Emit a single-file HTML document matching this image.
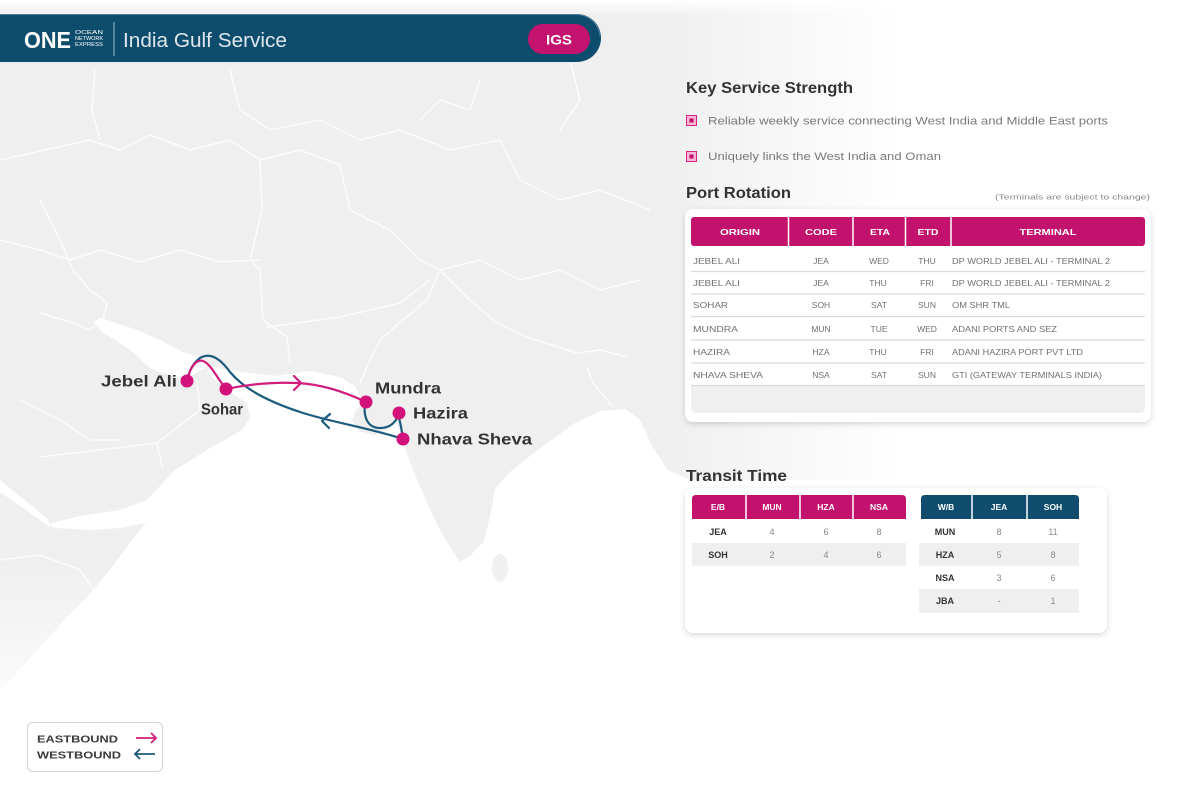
<!DOCTYPE html>
<html><head><meta charset="utf-8"><style>
html,body{margin:0;padding:0;background:#fff;}
svg{display:block;}
text{font-family:"Liberation Sans",sans-serif;}
</style></head><body>
<svg width="1200" height="788" viewBox="0 0 1200 788" xmlns="http://www.w3.org/2000/svg">
<defs>
<linearGradient id="fr" x1="0" x2="1" y1="0" y2="0">
 <stop offset="0" stop-color="#fff" stop-opacity="0"/>
 <stop offset="1" stop-color="#fff" stop-opacity="1"/>
</linearGradient>
<linearGradient id="fb" x1="0" x2="0" y1="0" y2="1">
 <stop offset="0" stop-color="#fff" stop-opacity="0"/>
 <stop offset="1" stop-color="#fff" stop-opacity="1"/>
</linearGradient>
<linearGradient id="ft" x1="0" x2="0" y1="0" y2="1">
 <stop offset="0" stop-color="#fff" stop-opacity="1"/>
 <stop offset="1" stop-color="#fff" stop-opacity="0"/>
</linearGradient>
<filter id="sh" x="-5%" y="-8%" width="110%" height="120%"><feDropShadow dx="0" dy="2" stdDeviation="3" flood-color="#000" flood-opacity="0.16"/></filter>
</defs>
<rect width="1200" height="788" fill="#fff"/>

<!-- MAP -->
<rect x="0" y="0" width="900" height="788" fill="#efefef"/>
<g fill="none" stroke="#fbfbfb" stroke-width="1.5" stroke-linejoin="round">
 <polyline points="40,313 73,323 90,330 103,320 107,303 90,290 73,270 60,240 40,200"/>
 <polyline points="260,270 263,320 287,337 290,363"/>
 <polyline points="267,327 340,317 400,303 430,280"/>
 <polyline points="40,457 157,443 200,410 197,380"/>
 <polyline points="157,443 163,470"/>
 <polyline points="360,383 370,360 380,340 403,320 427,300 440,270"/>
 <polyline points="497,323 527,337 577,353 600,350 627,357"/>
 <polyline points="587,367 593,383 613,407"/>
 <polyline points="0,160 45,150 90,140 120,150 150,135 190,150 230,140 260,160 300,150 340,165"/>
 <polyline points="95,70 92,110 100,140"/>
 <polyline points="230,70 240,110 270,130 320,120 360,140 400,130 450,150 500,140"/>
 <polyline points="260,160 262,210 250,260 260,270"/>
 <polyline points="340,165 350,210 390,230 420,260 440,270 480,260 520,280 560,270 600,290 640,280"/>
 <polyline points="0,240 40,250 70,260 100,250 140,262 180,250 220,262 260,260"/>
 <polyline points="500,140 520,180 560,200 600,190 650,210"/>
 <polyline points="440,270 470,300 497,323"/>
 <polyline points="0,560 40,555 80,570 100,600"/>
 <polyline points="20,400 60,420 90,440 120,440"/>
 <polyline points="420,120 440,100 470,110 480,80"/>
 <polyline points="570,60 580,100 560,130"/>
</g>
<!-- water -->
<path fill="#fff" d="M212,367 L240,372 L275,376 L310,371 L340,377 L355,386 L360,396 L362,404 L356,410 L352,420 L358,431 L374,435 L388,430 L396,421 L400,432 L404,446 L410,462 L418,482 L428,505 L440,530 L452,550 L460,562 L470,556 L484,541 L491,512 L495,488 L510,472 L530,456 L550,441 L575,423 L600,411 L625,409 L640,420 L652,446 L668,470 L690,480 L900,480 L900,788 L0,788 L0,690 L22,667 L45,642 L67,617 L90,594 L112,567 L126,548 L140,530 L146,523 L120,528 L90,530 L55,528 L48,524 L80,516 L120,510 L147,500 L175,470 L210,448 L242,430 L250,418 L247,403 L235,395 L225,388 L215,380 L207,372 Z"/>
<path fill="#fff" d="M207,364 L198,357 L183,352 L162,341 L140,331 L116,323 L100,318 L94,322 L102,332 L120,343 L134,353 L142,361 L150,368 L162,373 L176,377 L188,378 L197,372 L204,369 Z"/>
<path fill="#fff" d="M0,480 L48,519 L50,527 L0,492 Z"/>
<ellipse cx="500" cy="568" rx="8" ry="14" fill="#efefef"/>
<!-- fades -->
<rect x="660" y="0" width="240" height="788" fill="url(#fr)"/>
<rect x="899" y="0" width="301" height="788" fill="#fff"/>
<rect x="0" y="560" width="900" height="180" fill="url(#fb)"/>
<rect x="0" y="739" width="900" height="49" fill="#fff"/>
<rect x="0" y="0" width="900" height="16" fill="url(#ft)"/>

<!-- HEADER -->
<path d="M0,14 H577 A24,24 0 0 1 577,62 H0 Z" fill="#0e4c6e"/>
<path d="M0,14.5 H577 A23.5,23.5 0 0 1 600,36" fill="none" stroke="#4f7f9c" stroke-width="1"/>
<text x="24" y="48" font-size="23" font-weight="bold" fill="#fff" textLength="47" lengthAdjust="spacingAndGlyphs">ONE</text>
<text x="75" y="34" font-size="5" fill="#fff" textLength="28" lengthAdjust="spacingAndGlyphs">OCEAN</text>
<text x="75" y="40" font-size="5" fill="#fff" textLength="28" lengthAdjust="spacingAndGlyphs">NETWORK</text>
<text x="75" y="46" font-size="5" fill="#fff" textLength="28" lengthAdjust="spacingAndGlyphs">EXPRESS</text>
<line x1="114" y1="22" x2="114" y2="56" stroke="#a7bccb" stroke-width="1"/>
<text x="123" y="47" font-size="20" fill="#dfe7ed" textLength="164" lengthAdjust="spacingAndGlyphs">India Gulf Service</text>
<rect x="528" y="24" width="62" height="30" rx="15" fill="#c4126f"/>
<text x="559" y="44.5" font-size="14" font-weight="bold" fill="#fff" text-anchor="middle" textLength="26" lengthAdjust="spacingAndGlyphs">IGS</text>

<!-- ROUTES -->
<g fill="none" stroke-width="2.2" stroke-linecap="round" stroke-linejoin="round">
 <path stroke="#1c5b7d" d="M365,402 C363,418 368,428 380,428 C390,428 396,422 399,414 M399,418 C401,425 402,432 403,439 M403,439 C370,428 330,422 300,412 C270,402 245,390 230,372 C220,358 210,352 200,358 C193,363 189,371 187,381"/>
 <path stroke="#1c5b7d" d="M330,414 L322,421 L329,428"/>
 <path stroke="#d21c7c" d="M187,381 C190,366 197,359 203,361 C211,364 217,378 226,389 C250,384 275,382 297,383 C320,384 345,392 366,402"/>
 <path stroke="#d21c7c" d="M294,376 L301,383 L294,390"/>
</g>
<g fill="#d3117a">
 <circle cx="187" cy="381" r="6.5"/>
 <circle cx="226" cy="389" r="6.5"/>
 <circle cx="366" cy="402" r="6.5"/>
 <circle cx="399" cy="413" r="6.5"/>
 <circle cx="403" cy="439" r="6.5"/>
</g>
<g font-size="16" font-weight="bold" fill="#333">
 <text x="101" y="386.5" textLength="76" lengthAdjust="spacingAndGlyphs">Jebel Ali</text>
 <text x="201" y="414.5" textLength="42" lengthAdjust="spacingAndGlyphs">Sohar</text>
 <text x="375" y="393.5" textLength="66" lengthAdjust="spacingAndGlyphs">Mundra</text>
 <text x="413" y="418.5" textLength="55" lengthAdjust="spacingAndGlyphs">Hazira</text>
 <text x="417" y="444.5" textLength="115" lengthAdjust="spacingAndGlyphs">Nhava Sheva</text>
</g>

<!-- LEGEND -->
<rect x="27.5" y="722.5" width="135" height="49" rx="5" fill="#fff" stroke="#d3d3d3" stroke-width="1"/>
<text x="37" y="742.5" font-size="10" font-weight="bold" fill="#3a3a3a" textLength="81" lengthAdjust="spacingAndGlyphs">EASTBOUND</text>
<text x="37" y="758.5" font-size="10" font-weight="bold" fill="#3a3a3a" textLength="84" lengthAdjust="spacingAndGlyphs">WESTBOUND</text>
<path d="M136,738 H156 M151,733 L156,738 L151,743" fill="none" stroke="#d21c7c" stroke-width="1.8"/>
<path d="M135,754 H155 M140,749 L135,754 L140,759" fill="none" stroke="#1c5b7d" stroke-width="1.8"/>

<!-- KEY SERVICE STRENGTH -->
<text x="686" y="93" font-size="16" font-weight="bold" fill="#333" textLength="167" lengthAdjust="spacingAndGlyphs">Key Service Strength</text>
<rect x="686.5" y="115.5" width="10" height="10" fill="#f6b6d4" stroke="#d4247f" stroke-width="1"/>
<rect x="689.5" y="118.5" width="4" height="4" fill="#c0106a"/>
<text x="708" y="124.5" font-size="11" fill="#7a7a7a" textLength="400" lengthAdjust="spacingAndGlyphs">Reliable weekly service connecting West India and Middle East ports</text>
<rect x="686.5" y="151.5" width="10" height="10" fill="#f6b6d4" stroke="#d4247f" stroke-width="1"/>
<rect x="689.5" y="154.5" width="4" height="4" fill="#c0106a"/>
<text x="708" y="160" font-size="11" fill="#7a7a7a" textLength="233" lengthAdjust="spacingAndGlyphs">Uniquely links the West India and Oman</text>

<!-- PORT ROTATION -->
<text x="686" y="198" font-size="16" font-weight="bold" fill="#333" textLength="105" lengthAdjust="spacingAndGlyphs">Port Rotation</text>
<text x="995" y="199.5" font-size="7.5" fill="#888" textLength="155" lengthAdjust="spacingAndGlyphs">(Terminals are subject to change)</text>
<rect x="685" y="209" width="466" height="213" rx="8" fill="#fff" filter="url(#sh)"/>
<rect x="691" y="217" width="454" height="29" rx="3" fill="#c2126e"/>
<g stroke="#fff" stroke-width="1.5">
 <line x1="788.5" y1="217" x2="788.5" y2="246"/>
 <line x1="853" y1="217" x2="853" y2="246"/>
 <line x1="905.5" y1="217" x2="905.5" y2="246"/>
 <line x1="951" y1="217" x2="951" y2="246"/>
</g>
<g font-size="8.5" font-weight="bold" fill="#fff" text-anchor="middle">
 <text x="740" y="235" textLength="40" lengthAdjust="spacingAndGlyphs">ORIGIN</text>
 <text x="821" y="235" textLength="32" lengthAdjust="spacingAndGlyphs">CODE</text>
 <text x="880" y="235" textLength="20" lengthAdjust="spacingAndGlyphs">ETA</text>
 <text x="928" y="235" textLength="21" lengthAdjust="spacingAndGlyphs">ETD</text>
 <text x="1048" y="235" textLength="57" lengthAdjust="spacingAndGlyphs">TERMINAL</text>
</g>
<g stroke="#dadada" stroke-width="1.2">
 <line x1="691" y1="271.5" x2="1145" y2="271.5"/>
 <line x1="691" y1="294" x2="1145" y2="294"/>
 <line x1="691" y1="316.5" x2="1145" y2="316.5"/>
 <line x1="691" y1="340" x2="1145" y2="340"/>
 <line x1="691" y1="363" x2="1145" y2="363"/>
 <line x1="691" y1="385.5" x2="1145" y2="385.5"/>
</g>
<path d="M691,386 H1145 V407 Q1145,413 1139,413 H697 Q691,413 691,407 Z" fill="#efefef"/>
<g font-size="8.5" fill="#707070">
 <text x="693" y="264" textLength="47" lengthAdjust="spacingAndGlyphs">JEBEL ALI</text>
 <text x="693" y="286" textLength="47" lengthAdjust="spacingAndGlyphs">JEBEL ALI</text>
 <text x="693" y="308" textLength="35" lengthAdjust="spacingAndGlyphs">SOHAR</text>
 <text x="693" y="332" textLength="45" lengthAdjust="spacingAndGlyphs">MUNDRA</text>
 <text x="693" y="355" textLength="37" lengthAdjust="spacingAndGlyphs">HAZIRA</text>
 <text x="693" y="378" textLength="70" lengthAdjust="spacingAndGlyphs">NHAVA SHEVA</text>
 <g text-anchor="middle">
  <text x="821" y="264">JEA</text><text x="821" y="286">JEA</text><text x="821" y="308">SOH</text>
  <text x="821" y="332">MUN</text><text x="821" y="355">HZA</text><text x="821" y="378">NSA</text>
  <text x="879" y="264">WED</text><text x="878" y="286">THU</text><text x="879" y="308">SAT</text>
  <text x="879" y="332">TUE</text><text x="878" y="355">THU</text><text x="879" y="378">SAT</text>
  <text x="927" y="264">THU</text><text x="927" y="286">FRI</text><text x="927" y="308">SUN</text>
  <text x="927" y="332">WED</text><text x="927" y="355">FRI</text><text x="927" y="378">SUN</text>
 </g>
 <text x="952" y="264" textLength="158" lengthAdjust="spacingAndGlyphs">DP WORLD JEBEL ALI - TERMINAL 2</text>
 <text x="952" y="286" textLength="158" lengthAdjust="spacingAndGlyphs">DP WORLD JEBEL ALI - TERMINAL 2</text>
 <text x="952" y="308" textLength="58" lengthAdjust="spacingAndGlyphs">OM SHR TML</text>
 <text x="952" y="332" textLength="105" lengthAdjust="spacingAndGlyphs">ADANI PORTS AND SEZ</text>
 <text x="952" y="355" textLength="131" lengthAdjust="spacingAndGlyphs">ADANI HAZIRA PORT PVT LTD</text>
 <text x="952" y="378" textLength="150" lengthAdjust="spacingAndGlyphs">GTI (GATEWAY TERMINALS INDIA)</text>
</g>

<!-- TRANSIT TIME -->
<text x="686" y="481" font-size="16" font-weight="bold" fill="#333" textLength="101" lengthAdjust="spacingAndGlyphs">Transit Time</text>
<rect x="685" y="488" width="422" height="145" rx="8" fill="#fff" filter="url(#sh)"/>
<path d="M692,519 V499 Q692,495 696,495 H902 Q906,495 906,499 V519 Z" fill="#c2126e"/>
<path d="M921,519 V499 Q921,495 925,495 H1075 Q1079,495 1079,499 V519 Z" fill="#0f4c6e"/>
<g stroke="#fff" stroke-width="1.5">
 <line x1="746" y1="495" x2="746" y2="519"/>
 <line x1="800" y1="495" x2="800" y2="519"/>
 <line x1="853" y1="495" x2="853" y2="519"/>
 <line x1="972" y1="495" x2="972" y2="519"/>
 <line x1="1027" y1="495" x2="1027" y2="519"/>
</g>
<rect x="692" y="543" width="214" height="23" fill="#efefef"/>
<rect x="919" y="543" width="160" height="23" fill="#efefef"/>
<rect x="919" y="589" width="160" height="24" fill="#efefef"/>
<g font-size="8.5" font-weight="bold" fill="#fff" text-anchor="middle">
 <text x="718" y="510">E/B</text><text x="772" y="510">MUN</text><text x="826" y="510">HZA</text><text x="879" y="510">NSA</text>
 <text x="946" y="510">W/B</text><text x="999" y="510">JEA</text><text x="1053" y="510">SOH</text>
</g>
<g font-size="9" font-weight="bold" fill="#333" text-anchor="middle">
 <text x="718" y="535">JEA</text><text x="718" y="558">SOH</text>
 <text x="945" y="535">MUN</text><text x="945" y="558">HZA</text><text x="945" y="581">NSA</text><text x="945" y="604">JBA</text>
</g>
<g font-size="9" fill="#888" text-anchor="middle">
 <text x="772" y="535">4</text><text x="826" y="535">6</text><text x="879" y="535">8</text>
 <text x="772" y="558">2</text><text x="826" y="558">4</text><text x="879" y="558">6</text>
 <text x="999" y="535">8</text><text x="1053" y="535">11</text>
 <text x="999" y="558">5</text><text x="1053" y="558">8</text>
 <text x="999" y="581">3</text><text x="1053" y="581">6</text>
 <text x="999" y="604">-</text><text x="1053" y="604">1</text>
</g>
</svg>
</body></html>
